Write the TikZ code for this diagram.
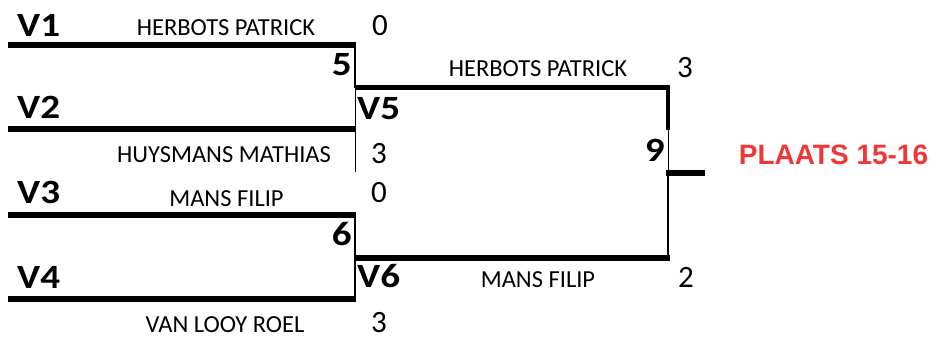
\documentclass[tikz,border=0pt]{standalone}
\usepackage{fontspec}
\setmainfont{Carlito}
\newfontfamily\seedfont[FakeStretch=1.15]{Carlito}
\newfontfamily\plaatsfont{Liberation Sans}
\usepackage{tikz}
\usetikzlibrary{positioning}
\definecolor{plaatsred}{RGB}{240,55,55}

\tikzset{
	bar/.style={line width=5.5pt},
	joint/.style={line width=2.5pt},
	hair/.style={line width=1pt},
	seed/.style={font=\seedfont\bfseries\fontsize{34}{34}\selectfont, inner sep=0pt, anchor=base west},
	matchno/.style={font=\seedfont\bfseries\fontsize{34}{34}\selectfont, inner sep=0pt, anchor=base east},
	player/.style={font=\fontsize{24.5}{24.5}\selectfont, inner sep=0pt, anchor=base},
	score/.style={font=\fontsize{31}{31}\selectfont, inner sep=0pt, anchor=base},
}

\begin{document}
\begin{tikzpicture}[x=1pt,y=-1pt]
	\useasboundingbox (0,0) rectangle (937,349);
	% first round
	\coordinate (s1) at (8,45);
	\coordinate (s2) at (8,129);
	\coordinate (s3) at (8,215);
	\coordinate (s4) at (8,299);
	\coordinate (j1) at (355,45);
	\coordinate (j2) at (355,129);
	\coordinate (j3) at (355,215);
	\coordinate (j4) at (355,299);
	\coordinate (j5) at (355,87.5);
	\coordinate (j5end) at (355,172);
	\coordinate (j6) at (355,258);
	% second round
	\coordinate (k5) at (668,87.5);
	\coordinate (k5mid) at (668,130);
	\coordinate (k9) at (668,172.5);
	\coordinate (k6) at (668,258);
	\coordinate (out) at (705,172.5);

	\draw[bar] (s1) -- ([xshift=1pt]j1);
	\draw[bar] (s2) -- ([xshift=1pt]j2);
	\draw[bar] (s3) -- ([xshift=1pt]j3);
	\draw[bar] (s4) -- ([xshift=1pt]j4);
	\draw[joint] ([yshift=-2.5pt]j1) -- (j5);
	\draw[hair] (j5) -- (j5end);
	\draw[joint] ([yshift=-2.5pt]j3) -- ([yshift=2.5pt]j4);
	\draw[bar] (j5) -- ([xshift=2pt]k5);
	\draw[bar] (j6) -- ([xshift=2pt]k6);
	\draw[line width=4pt] ([yshift=-2.5pt]k5) -- (k5mid);
	\draw[hair] (k5mid) -- (k9);
	\draw[joint] (k9) -- ([yshift=2.5pt]k6);
	\draw[line width=6pt] ([xshift=-2pt]k9) -- (out);

	% seeds and match numbers
	\node[seed] (V1) at (17,36.5) {V1};
	\node[seed] (V2) at (17,118) {V2};
	\node[seed] (V3) at (17,203) {V3};
	\node[seed] (V4) at (17,288) {V4};
	\node[seed] (V5) at (357,119) {V5};
	\node[seed] (V6) at (357,287) {V6};
	\node[matchno] (m5) at (352,75) {5};
	\node[matchno] (m6) at (352,245) {6};
	\node[matchno] (m9) at (665,161.5) {9};

	% players and scores
	\node[player] (p1) at (226,35) {HERBOTS PATRICK};
	\node[player] (p2) at (224,162) {HUYSMANS MATHIAS};
	\node[player] (p3) at (226.5,206.5) {MANS FILIP};
	\node[player] (p4) at (225,332) {VAN LOOY ROEL};
	\node[player] (p5) at (538,76) {HERBOTS PATRICK};
	\node[player] (p6) at (538,287) {MANS FILIP};
	\node[score] (sc1) at (380,35) {0};
	\node[score] (sc2) at (379,163) {3};
	\node[score] (sc3) at (379,202) {0};
	\node[score] (sc4) at (379,332) {3};
	\node[score] (sc5) at (685,77) {3};
	\node[score] (sc6) at (686,287) {2};

	\node[font=\plaatsfont\bfseries\fontsize{28}{28}\selectfont, text=plaatsred, inner sep=0pt, anchor=base] (plaats) at (833.5,164) {PLAATS 15-16};
\end{tikzpicture}
\end{document}
